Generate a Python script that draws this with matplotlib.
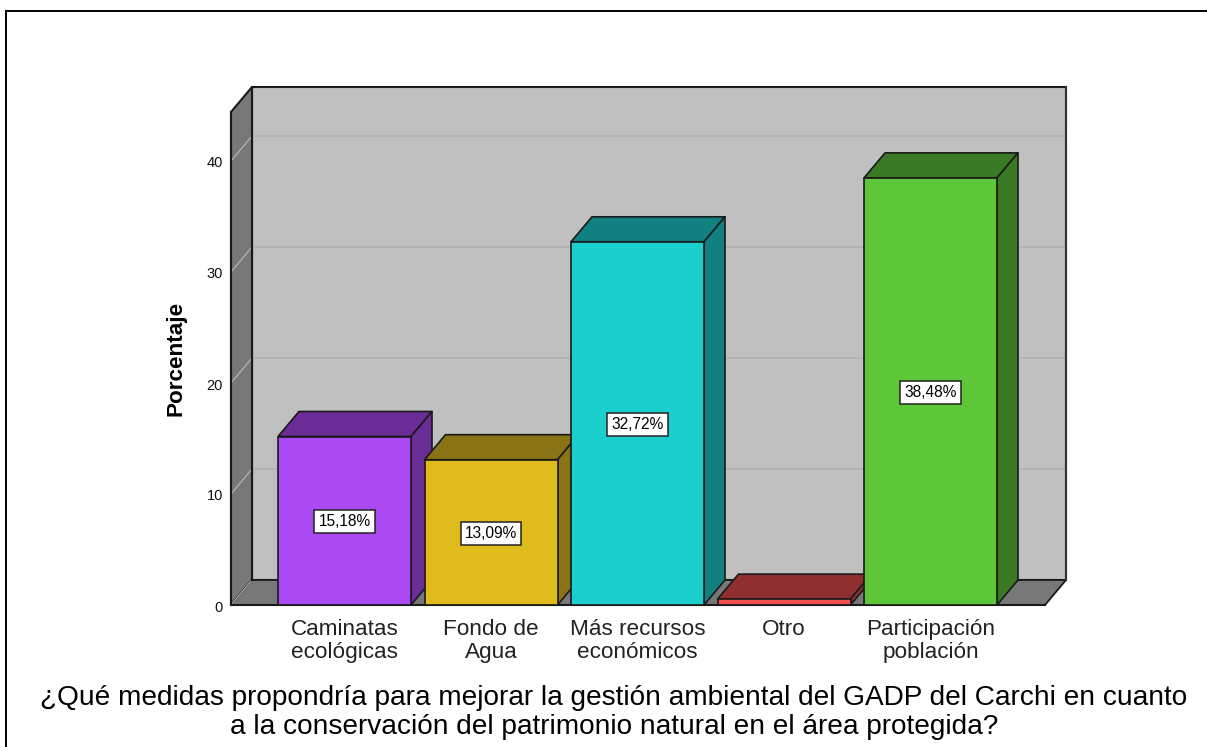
import matplotlib
matplotlib.use('Agg')
import matplotlib.pyplot as plt
from matplotlib.patches import Polygon
from matplotlib.lines import Line2D

categories = ['Caminatas\necológicas', 'Fondo de\nAgua', 'Más recursos\neconómicos', 'Otro', 'Participación\npoblación']
percentages = [15.18, 13.09, 32.72, 0.53, 38.48]
bar_labels = ['15,18%', '13,09%', '32,72%', None, '38,48%']
y_ticks = [0, 10, 20, 30, 40]
title = '¿Qué medidas propondría para mejorar la gestión ambiental del GADP del Carchi en cuanto\na la conservación del patrimonio natural en el área protegida?'

front_colors = ['#AB49F2', '#E0BB1C', '#1CCFCF', '#EF4F4F', '#5EC639']
side_colors = ['#6A2C96', '#8A7314', '#108080', '#8F2E2E', '#3A7A24']

EDGE = '#1a1a1a'
W, H = 1207, 747
X0, STEP = 344.5, 146.5      # pixel centre of first bar, bar spacing
Y0, UNIT = 605.0, 11.1       # pixel of zero line, pixels per percent

plt.rcParams['font.family'] = ['Liberation Sans', 'DejaVu Sans']

fig = plt.figure(figsize=(W / 100, H / 100), dpi=100, facecolor='white')
ax = fig.add_axes([0, 0, 1, 1])
ax.set_xlim(-X0 / STEP, (W - X0) / STEP)
ax.set_ylim((Y0 - H) / UNIT, Y0 / UNIT)
ax.axis('off')

dx = 21 / STEP     # depth of the box
dy = 25 / UNIT
bar_w = 133 / STEP
left = (231 - X0) / STEP
right = (1045 - X0) / STEP
top = (Y0 - 112) / UNIT


def poly(pts, color, z=1, lw=1.2):
    ax.add_patch(Polygon(pts, closed=True, facecolor=color, edgecolor=EDGE, linewidth=lw, zorder=z, joinstyle='round'))


# walls and floor
poly([(left + dx, dy), (left + dx, top + dy), (right + dx, top + dy), (right + dx, dy)], '#C0C0C0', lw=1.5)
poly([(left, 0), (left, top), (left + dx, top + dy), (left + dx, dy)], '#787878', lw=1.5)
poly([(left, 0), (left + dx, dy), (right + dx, dy), (right, 0)], '#787878', lw=1.3)

for t in y_ticks:
    if t > 0:
        ax.plot([left + dx, right + dx], [t + dy, t + dy], color='#B0B0B0', lw=1.1, zorder=1.5)
    ax.plot([left, left + dx], [t, t + dy], color='#B4B4B4', lw=0.9, zorder=1.5)
    ax.text(left - 8 / STEP, t - 2.5 / UNIT, str(t), ha='right', va='center', fontsize=10.5, color='#111111')

# redraw wall edges over the grid
ax.plot([left, left], [0, top], color=EDGE, lw=1.5, zorder=1.6)
ax.plot([left + dx, left + dx], [dy, top + dy], color=EDGE, lw=1.5, zorder=1.6)
ax.plot([right + dx, right + dx], [dy, top + dy], color='#333333', lw=1.5, zorder=1.6)
ax.plot([left, right], [0, 0], color=EDGE, lw=1.5, zorder=1.6)

# bars
for i, val in enumerate(percentages):
    x1 = i - bar_w / 2
    x2 = i + bar_w / 2
    z = 2 + i * 0.1
    poly([(x1, val), (x1 + dx, val + dy), (x2 + dx, val + dy), (x2, val)], side_colors[i], z)
    poly([(x2, 0), (x2 + dx, dy), (x2 + dx, val + dy), (x2, val)], side_colors[i], z)
    poly([(x1, 0), (x1, val), (x2, val), (x2, 0)], front_colors[i], z)
    if bar_labels[i]:
        ax.text(i, val / 2 - 1 / UNIT, bar_labels[i], ha='center', va='center', fontsize=11.2, color='black', zorder=5,
                bbox=dict(boxstyle='square,pad=0.27', facecolor='white', edgecolor='#222222', linewidth=1.1))
    ax.text(i, -1.27, categories[i], ha='center', va='top', fontsize=16.2, color='#222222', linespacing=1.1)

ax.text((175.5 - X0) / STEP, (Y0 - 358.5) / UNIT, 'Porcentaje', rotation=90, ha='center', va='center',
        fontsize=16.2, fontweight='bold', color='black')
ax.text((614 - X0) / STEP, (Y0 - 712.5) / UNIT, title, ha='center', va='center', fontsize=20.2, color='black', linespacing=1.12)

# outer frame, only top and left show
fig.add_artist(Line2D([6 / W, 6 / W], [0, 1 - 11 / H], color='black', lw=1.4))
fig.add_artist(Line2D([6 / W, 1], [1 - 11 / H, 1 - 11 / H], color='black', lw=1.4))

fig.savefig('out.png', dpi=100)
